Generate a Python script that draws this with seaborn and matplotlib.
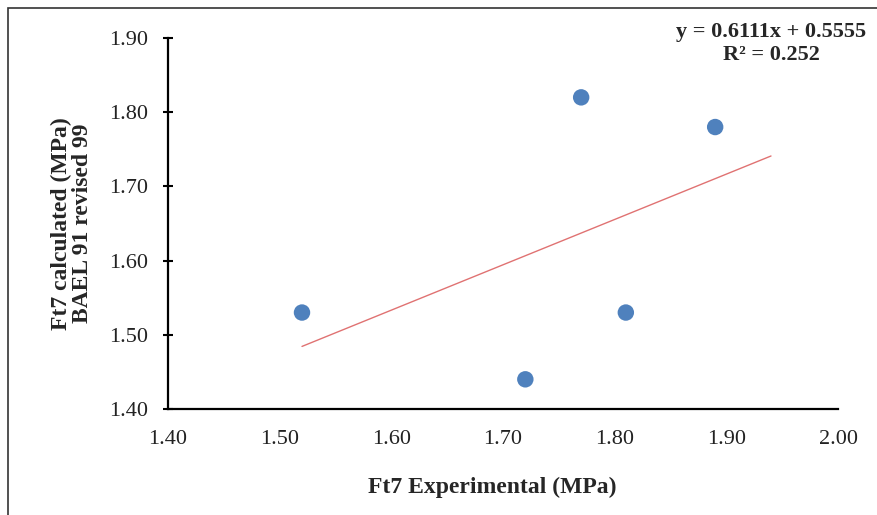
import numpy as np
import pandas as pd
import matplotlib
matplotlib.use("Agg")
import matplotlib.pyplot as plt
import seaborn as sns
from matplotlib.patches import Rectangle

# Data
ft7_experimental = [1.52, 1.72, 1.77, 1.81, 1.89]
ft7_calculated = [1.53, 1.44, 1.82, 1.53, 1.78]
x_ticks = [1.40, 1.50, 1.60, 1.70, 1.80, 1.90, 2.00]
y_ticks = [1.40, 1.50, 1.60, 1.70, 1.80, 1.90]
trend_forward = 0.05

df = pd.DataFrame({"exp": ft7_experimental, "calc": ft7_calculated})

sns.set_theme(style="white")
plt.rcParams["font.family"] = ["Liberation Serif", "DejaVu Serif"]

fig = plt.figure(figsize=(8.77, 5.15), dpi=100)
ax = fig.add_axes([168/877, 1 - 409/515, (838-168)/877, (409-38)/515])

# Trendline (linear fit, forecast forward like Excel)
slope, intercept = np.polyfit(df["exp"], df["calc"], 1)
pred = slope * df["exp"] + intercept
r2 = 1 - np.sum((df["calc"] - pred) ** 2) / np.sum((df["calc"] - df["calc"].mean()) ** 2)
tx = np.array([df["exp"].min(), df["exp"].max() + trend_forward])
trend = pd.DataFrame({"x": tx, "y": slope * tx + intercept})
sns.lineplot(data=trend, x="x", y="y", ax=ax, color="#E07272", linewidth=1.0, zorder=2)

sns.scatterplot(data=df, x="exp", y="calc", ax=ax, color="#4F81BD", s=140,
                edgecolor="none", zorder=3)

ax.set_xlim(1.40, 2.00)
ax.set_ylim(1.40, 1.90)
ax.set_xticks(x_ticks)
ax.set_yticks(y_ticks)
ax.set_xticklabels([f"{v:.2f}" for v in x_ticks])
ax.set_yticklabels([f"{v:.2f}" for v in y_ticks])

for s in ["top", "right"]:
    ax.spines[s].set_visible(False)
for s in ["left", "bottom"]:
    ax.spines[s].set_color("black")
    ax.spines[s].set_linewidth(1.6)

ax.tick_params(axis="y", direction="inout", length=7, width=1.5, color="black",
               labelsize=16, pad=11, left=True)
ax.tick_params(axis="x", length=0, labelsize=16, pad=15)
for lab in ax.get_xticklabels() + ax.get_yticklabels():
    lab.set_color("#222222")

ax.set_xlabel("Ft7 Experimental (MPa)", fontsize=17, fontweight="bold")
ax.set_ylabel("Ft7 calculated (MPa)\nBAEL 91 revised 99", fontsize=17,
              fontweight="bold", linespacing=0.95)
ax.xaxis.set_label_coords((492 - 168) / (838 - 168), -(487 - 409) / (409 - 38))
ax.xaxis.label.set_va("center")
ax.yaxis.set_label_coords(-(168 - 72) / (838 - 168), 0.5)
ax.yaxis.label.set_va("center")

eq = f"y = {slope:.4f}x + {intercept:.4f}\nR² = {r2:.3f}"
fig.text(771/877, 1 - 43.5/515, eq, ha="center", va="center", fontsize=16,
         fontweight="bold", linespacing=1.2)

# figure frame
fig.patches.append(Rectangle((8/877, -0.05), 2, 1 - 8/515 + 0.05, transform=fig.transFigure,
                             fill=False, edgecolor="#333333", linewidth=1.2))

fig.savefig("out.png", dpi=100)
